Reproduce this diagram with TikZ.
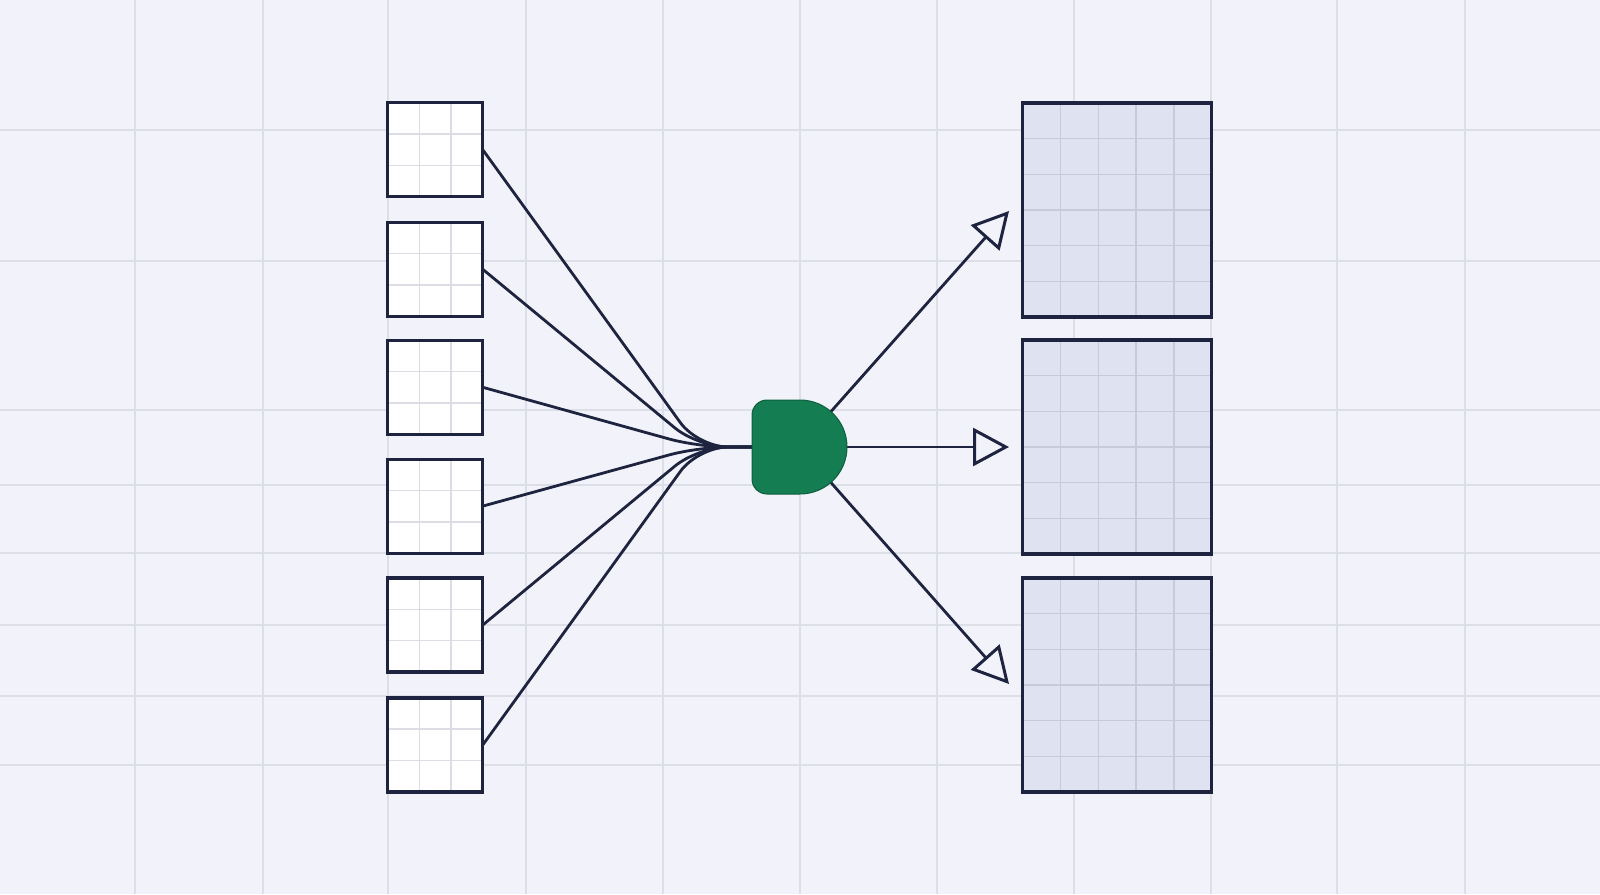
\documentclass[tikz,border=0pt]{standalone}
\usetikzlibrary{arrows.meta,calc}
\definecolor{bgc}{HTML}{F2F3FA}
\definecolor{gridc}{HTML}{DCDEE8}
\definecolor{navy}{HTML}{1E2340}
\definecolor{lgrid}{HTML}{DCDDE4}
\definecolor{rfill}{HTML}{DFE2F0}
\definecolor{rgrid}{HTML}{C6CAD9}
\definecolor{gfill}{HTML}{147D52}
\definecolor{gline}{HTML}{0D5F3D}
\tikzset{
  bggrid/.style={draw=gridc, line width=1.5pt},
  leftbox/.style={draw=navy, line width=3.2pt, fill=white, minimum width=95pt, minimum height=94pt, inner sep=0pt, outer sep=0pt,
    path picture={
      \foreach \f in {0.3333,0.6667}{
        \draw[lgrid, line width=1.5pt] ($(path picture bounding box.north west)!\f!(path picture bounding box.north east)$) -- ($(path picture bounding box.south west)!\f!(path picture bounding box.south east)$);
        \draw[lgrid, line width=1.5pt] ($(path picture bounding box.north west)!\f!(path picture bounding box.south west)$) -- ($(path picture bounding box.north east)!\f!(path picture bounding box.south east)$);
      }}},
  rightbox/.style={draw=navy, line width=3.2pt, fill=rfill, minimum width=189pt, minimum height=214pt, inner sep=0pt, outer sep=0pt,
    path picture={
      \foreach \f in {0.2,0.4,0.6,0.8}{
        \draw[rgrid, line width=1.5pt] ($(path picture bounding box.north west)!\f!(path picture bounding box.north east)$) -- ($(path picture bounding box.south west)!\f!(path picture bounding box.south east)$);
      }
      \foreach \f in {0.16667,0.33333,0.5,0.66667,0.83333}{
        \draw[rgrid, line width=1.5pt] ($(path picture bounding box.north west)!\f!(path picture bounding box.south west)$) -- ($(path picture bounding box.north east)!\f!(path picture bounding box.south east)$);
      }}},
  conn/.style={draw=navy, line width=2.8pt, rounded corners=30pt},
  outarrow/.style={draw=navy, line width=2.8pt, -{Triangle[open, length=36pt, width=38pt, line width=3pt]}},
  gate/.style={fill=gfill, draw=gline, line width=1pt},
}
\begin{document}
\begin{tikzpicture}[x=1pt,y=-1pt]
\useasboundingbox (0,0) rectangle (1600,894);
\fill[bgc] (0,0) rectangle (1600,894);
% background grid
\foreach \gx in {135,263,388,526,663,800,937,1074,1211,1337,1465}
  \draw[bggrid] (\gx,0) -- (\gx,894);
\foreach \gy in {130,261,410,485,553,625,696,765}
  \draw[bggrid] (0,\gy) -- (1600,\gy);

% left boxes
\node[leftbox] (l1) at (435.3,149.8) {};
\node[leftbox] (l2) at (435.3,269.3) {};
\node[leftbox] (l3) at (435.3,387.3) {};
\node[leftbox] (l4) at (435.3,506.1) {};
\node[leftbox] (l5) at (435.3,625.0) {};
\node[leftbox] (l6) at (435.3,744.9) {};

% right boxes
\node[rightbox] (r1) at (1117.3,210) {};
\node[rightbox] (r2) at (1117.3,447) {};
\node[rightbox] (r3) at (1117.3,685) {};

% gate placeholder
\node[minimum width=95pt, minimum height=94pt, inner sep=0pt, outer sep=0pt] (g) at (799.5,447) {};
\coordinate (J) at (698,447);
\coordinate (t1) at (1009,211);
\coordinate (t2) at (1009,447);
\coordinate (t3) at (1009,684);

% merging connectors
\foreach \n in {l1,l2,l3,l4,l5,l6}
  \draw[conn] (\n.east) -- (J) -- (g.west);

% outgoing arrows
\draw[outarrow] (g.center) -- (t1);
\draw[outarrow] (g.center) -- (t2);
\draw[outarrow] (g.center) -- (t3);

% gate shape
\path[gate] (800,400) -- (767,400) arc[start angle=-90, end angle=-180, radius=15]
  -- (752,479) arc[start angle=180, end angle=90, radius=15]
  -- (800,494) arc[start angle=90, end angle=-90, radius=47] -- cycle;
\end{tikzpicture}
\end{document}
